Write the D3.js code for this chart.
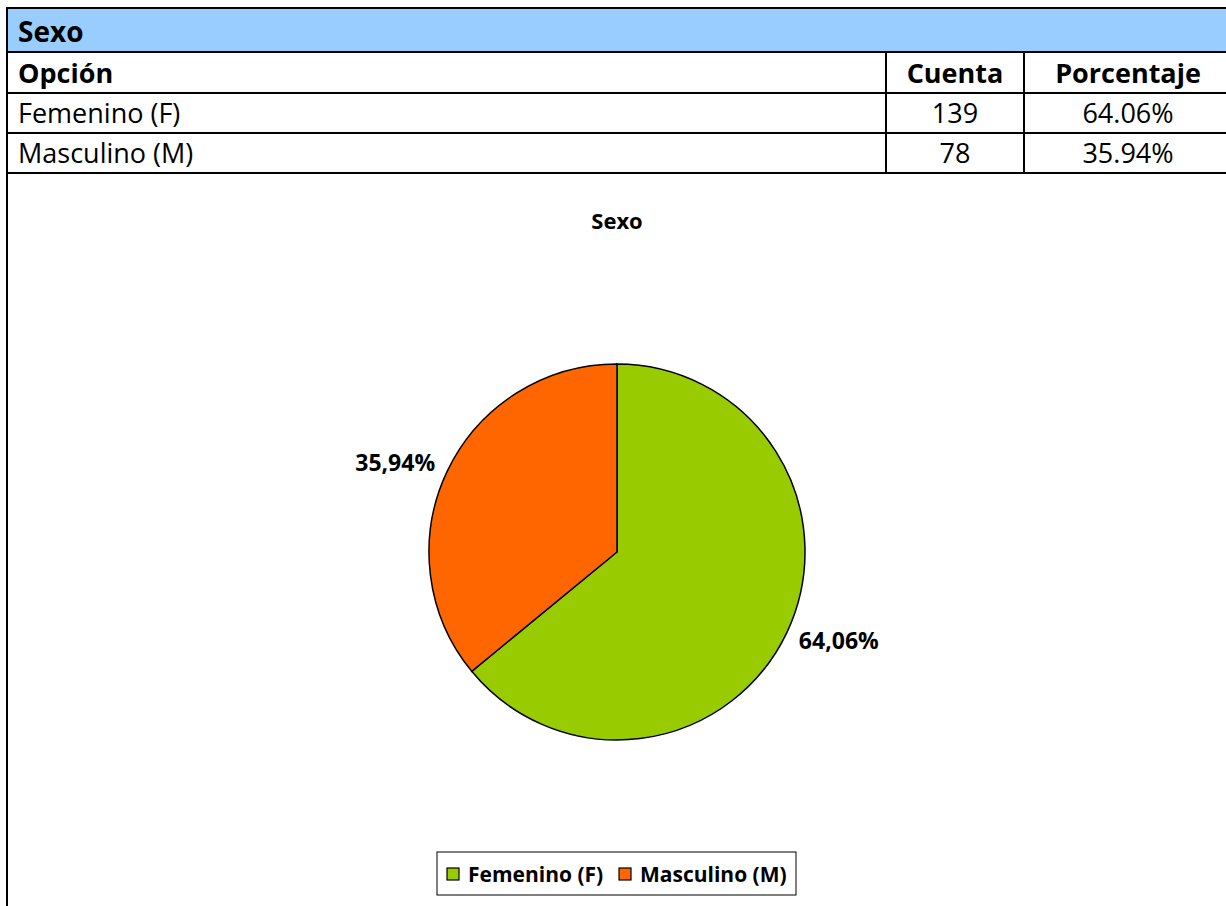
<!DOCTYPE html>
<html>
<head>
<meta charset="utf-8">
<script src="https://cdn.jsdelivr.net/npm/d3@7"></script>
<style>
  body { margin: 0; background: #fff; }
  svg { display: block; font-family: "Open Sans", Lato, sans-serif; }
</style>
</head>
<body>
<svg id="chart" width="1226" height="906"></svg>
<script>
// datos de la tabla y del grafico
var title = "Sexo";
var headers = ["Opción", "Cuenta", "Porcentaje"];
var categories = ["Femenino (F)", "Masculino (M)"];
var counts = [139, 78];
var percents = ["64.06%", "35.94%"];
var pieLabels = ["64,06%", "35,94%"];
var colors = ["#99CC00", "#FF6600"];

var svg = d3.select("#chart");

// tabla
var colX = [7, 886, 1024, 1232];
var rowY = [8, 52, 93, 133, 173];
var fs = 27;

svg.append("rect")
   .attr("x", colX[0]).attr("y", rowY[0])
   .attr("width", colX[3] - colX[0]).attr("height", rowY[1] - rowY[0])
   .attr("fill", "#99CCFF");

svg.append("text")
   .attr("x", 18).attr("y", rowY[1] - 10)
   .attr("font-size", 28).attr("font-weight", "bold")
   .text(title);

var rows = [headers].concat(categories.map(function(c, i) {
  return [c, String(counts[i]), percents[i]];
}));
rows.forEach(function(r, i) {
  var yb = rowY[i + 2] - 10;
  var bold = i === 0 ? "bold" : "normal";
  svg.append("text").attr("x", 18).attr("y", yb)
     .attr("font-size", fs).attr("font-weight", bold).text(r[0]);
  svg.append("text").attr("x", (colX[1] + colX[2]) / 2).attr("y", yb)
     .attr("text-anchor", "middle")
     .attr("font-size", fs).attr("font-weight", bold).text(r[1]);
  svg.append("text").attr("x", (colX[2] + colX[3]) / 2).attr("y", yb)
     .attr("text-anchor", "middle")
     .attr("font-size", fs).attr("font-weight", bold).text(r[2]);
});

// lineas de la tabla
var grid = svg.append("g").attr("stroke", "#000").attr("stroke-width", 2);
rowY.forEach(function(y) {
  grid.append("line").attr("x1", colX[0]).attr("x2", 1226).attr("y1", y).attr("y2", y);
});
grid.append("line").attr("x1", colX[0]).attr("x2", colX[0]).attr("y1", rowY[0] - 1).attr("y2", 906);
[colX[1], colX[2]].forEach(function(x) {
  grid.append("line").attr("x1", x).attr("x2", x).attr("y1", rowY[1]).attr("y2", rowY[4]);
});

// grafico de torta
var cx = 617, cy = 552, radius = 188;
svg.append("text")
   .attr("x", cx).attr("y", 229)
   .attr("text-anchor", "middle")
   .attr("font-size", 22).attr("font-weight", "bold")
   .text(title);

var pie = d3.pie().sort(null).value(function(d) { return d; });
var arcs = pie(counts);
var arc = d3.arc().innerRadius(0).outerRadius(radius);
var labelArc = d3.arc().innerRadius(radius + 51).outerRadius(radius + 51);
var labelShift = -0.06; // etiquetas un poco giradas como en excel

var pg = svg.append("g").attr("transform", "translate(" + cx + "," + cy + ")");
pg.selectAll("path")
  .data(arcs)
  .enter().append("path")
  .attr("d", arc)
  .attr("fill", function(d, i) { return colors[i]; })
  .attr("stroke", "#000")
  .attr("stroke-width", 1.5);

pg.selectAll("text.lbl")
  .data(arcs)
  .enter().append("text")
  .attr("class", "lbl")
  .attr("transform", function(d) {
    var c = labelArc.centroid({startAngle: d.startAngle + labelShift, endAngle: d.endAngle + labelShift});
    return "translate(" + c + ")";
  })
  .attr("text-anchor", "middle")
  .attr("dy", "0.35em")
  .attr("font-size", 23).attr("font-weight", "bold")
  .text(function(d, i) { return pieLabels[i]; });

// leyenda
var legend = svg.append("g");
legend.append("rect")
      .attr("x", 437).attr("y", 852).attr("width", 359).attr("height", 43)
      .attr("fill", "#fff").attr("stroke", "#000").attr("stroke-width", 1);
var legX = [447, 619];
categories.forEach(function(c, i) {
  legend.append("rect")
        .attr("x", legX[i]).attr("y", 868).attr("width", 12).attr("height", 12)
        .attr("fill", colors[i]).attr("stroke", "#000").attr("stroke-width", 1.2);
  legend.append("text")
        .attr("x", legX[i] + 21).attr("y", 882)
        .attr("font-size", 21).attr("font-weight", "bold")
        .text(c);
});
</script>
</body>
</html>
